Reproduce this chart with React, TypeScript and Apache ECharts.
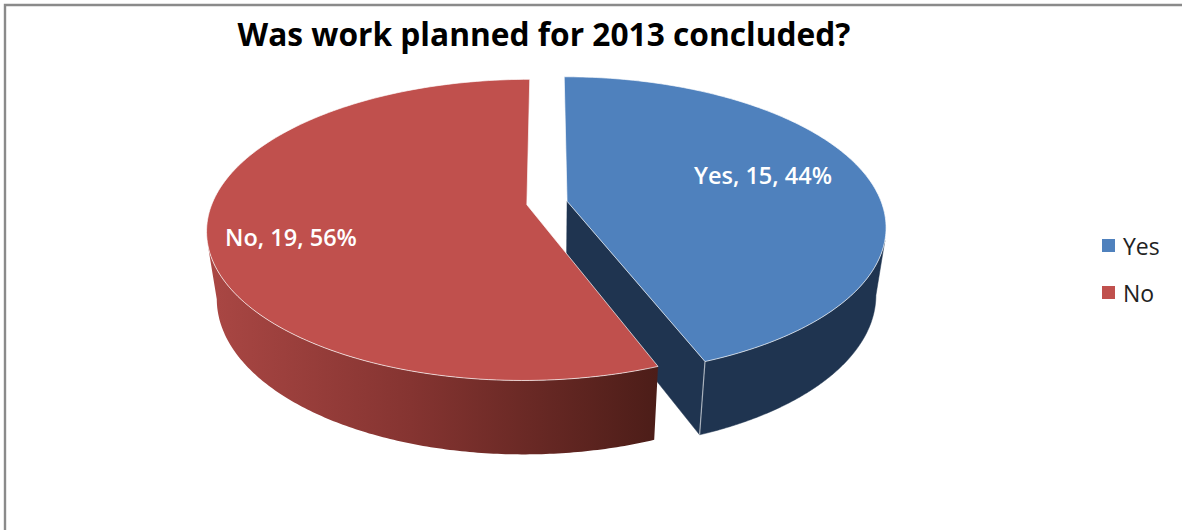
import React, { useEffect, useRef } from "react";
import * as echarts from "echarts";

const categories = ["Yes", "No"];
const values = [15, 19];
const chartTitle = "Was work planned for 2013 concluded?";

const faceColors = ["#4f81bd", "#c0504d"];
const FONT = "'Open Sans', 'Noto Sans', sans-serif";

// Projection of the tilted disc: centre, radii, perspective and extrusion depth.
const CX = 547;
const CY = 203;
const RX = 314.6;
const RY = 145.8;
const PERSPECTIVE = 1 / 6;
const SHRINK = 0.03;
const DEPTH = 69;
const EXPLODE = 0.065;
const STEPS = 160;

const total = values.reduce((a, b) => a + b, 0);
const startFraction = (i: number) =>
  values.slice(0, i).reduce((a, b) => a + b, 0) / total;

// Label centres and the angles (degrees clockwise from 12 o'clock) where the
// outer wall meets its silhouette tangent on the top and bottom rims.
const sliceLayout = [
  { labelX: 763, labelY: 175, tangentTop: 105, tangentBottom: 100 },
  { labelX: 291, labelY: 237, tangentTop: 255, tangentBottom: 260 },
];

const rad = (deg: number) => (deg / 180) * Math.PI;

function projectDisc(X: number, Y: number, z: number): number[] {
  const w = 1 - PERSPECTIVE * Y + SHRINK * z;
  return [CX + (RX * X) / w, CY + (RY * Y + DEPTH * z) / w];
}

function arc(ox: number, oy: number, a0: number, a1: number, z: number): number[][] {
  const pts: number[][] = [];
  for (let s = 0; s <= STEPS; s++) {
    const t = a0 + ((a1 - a0) * s) / STEPS;
    pts.push(projectDisc(ox + Math.sin(t), oy - Math.cos(t), z));
  }
  return pts;
}

const rim = "rgba(255,255,255,0.68)";

function sliceRenderer(index: number) {
  return () => {
    const { labelX, labelY, tangentTop, tangentBottom } = sliceLayout[index];
    const a0 = startFraction(index) * 2 * Math.PI;
    const a1 = startFraction(index + 1) * 2 * Math.PI;
    const mid = (a0 + a1) / 2;
    const ox = EXPLODE * Math.sin(mid);
    const oy = -EXPLODE * Math.cos(mid);
    const children: any[] = [];
    const apexTop = projectDisc(ox, oy, 0);

    if (index === 0) {
      // Blue: the outer wall runs from the front corner to the right tangent,
      // and the cut face toward the viewer is visible.
      const top = arc(ox, oy, a1, rad(tangentTop), 0);
      const bottom = arc(ox, oy, a1, rad(tangentBottom), 1).reverse();
      const apexBottom = projectDisc(ox, oy, 1);
      const cornerTop = top[0];
      const cornerBottom = bottom[bottom.length - 1];
      children.push({
        type: "polygon",
        shape: { points: [apexTop, cornerTop, cornerBottom, apexBottom] },
        style: { fill: "#1f3450", stroke: "#1f3450", lineWidth: 0.5 },
      });
      children.push({
        type: "polygon",
        shape: { points: top.concat(bottom) },
        style: { fill: "#1f3450", stroke: "#1f3450", lineWidth: 0.5 },
      });
      children.push({
        type: "line",
        shape: { x1: cornerTop[0], y1: cornerTop[1], x2: cornerBottom[0], y2: cornerBottom[1] },
        style: { stroke: "rgba(255,255,255,0.6)", lineWidth: 1.2 },
      });
    } else {
      // Red: only the outer wall shows, shaded darker toward the front corner.
      const top = arc(ox, oy, a0, rad(tangentTop), 0);
      const bottom = arc(ox, oy, a0, rad(tangentBottom), 1).reverse();
      children.push({
        type: "polygon",
        shape: { points: top.concat(bottom) },
        style: {
          fill: new echarts.graphic.LinearGradient(1, 0, 0, 0, [
            { offset: 0, color: "#4c1d18" },
            { offset: 0.55, color: "#853431" },
            { offset: 1, color: "#aa4744" },
          ]),
        },
      });
    }

    const face = [apexTop].concat(arc(ox, oy, a0, a1, 0));
    children.push({
      type: "polygon",
      shape: { points: face },
      style: { fill: faceColors[index], stroke: rim, lineWidth: 1 },
    });

    const pct = Math.round((values[index] / total) * 100);
    children.push({
      type: "text",
      style: {
        x: labelX,
        y: labelY,
        text: `${categories[index]}, ${values[index]}, ${pct}%`,
        fill: "#ffffff",
        font: `600 23.5px ${FONT}`,
        align: "center",
        verticalAlign: "middle",
      },
    });

    return { type: "group", children };
  };
}

export default function App() {
  const ref = useRef<HTMLDivElement>(null);

  useEffect(() => {
    if (!ref.current) return;
    const chart = echarts.init(ref.current, undefined, { renderer: "svg" });
    chart.setOption({
      animation: false,
      backgroundColor: "#ffffff",
      title: {
        text: chartTitle,
        left: 539,
        top: 12,
        textAlign: "center",
        textStyle: {
          fontFamily: FONT,
          fontSize: 31.7,
          fontWeight: 700,
          color: "#000000",
        },
      },
      legend: {
        orient: "vertical",
        left: 1097,
        top: 229,
        icon: "rect",
        itemWidth: 13,
        itemHeight: 13,
        itemGap: 24,
        data: categories,
        textStyle: {
          fontFamily: FONT,
          fontSize: 23,
          color: "#222222",
          padding: [0, 0, 0, 3],
        },
      },
      graphic: [
        {
          type: "polyline",
          silent: true,
          shape: { points: [[5, 530], [5, 5], [1182, 5]] },
          style: { stroke: "#8a8a8a", lineWidth: 2.4, fill: "none" },
        },
      ],
      series: categories.map((name, i) => ({
        type: "custom",
        name,
        coordinateSystem: "none",
        silent: true,
        itemStyle: { color: faceColors[i] },
        data: [values[i]],
        renderItem: sliceRenderer(i),
      })),
    });
    return () => chart.dispose();
  }, []);

  return (
    <div
      ref={ref}
      style={{ position: "absolute", left: 0, top: 0, width: 1182, height: 530 }}
    />
  );
}
